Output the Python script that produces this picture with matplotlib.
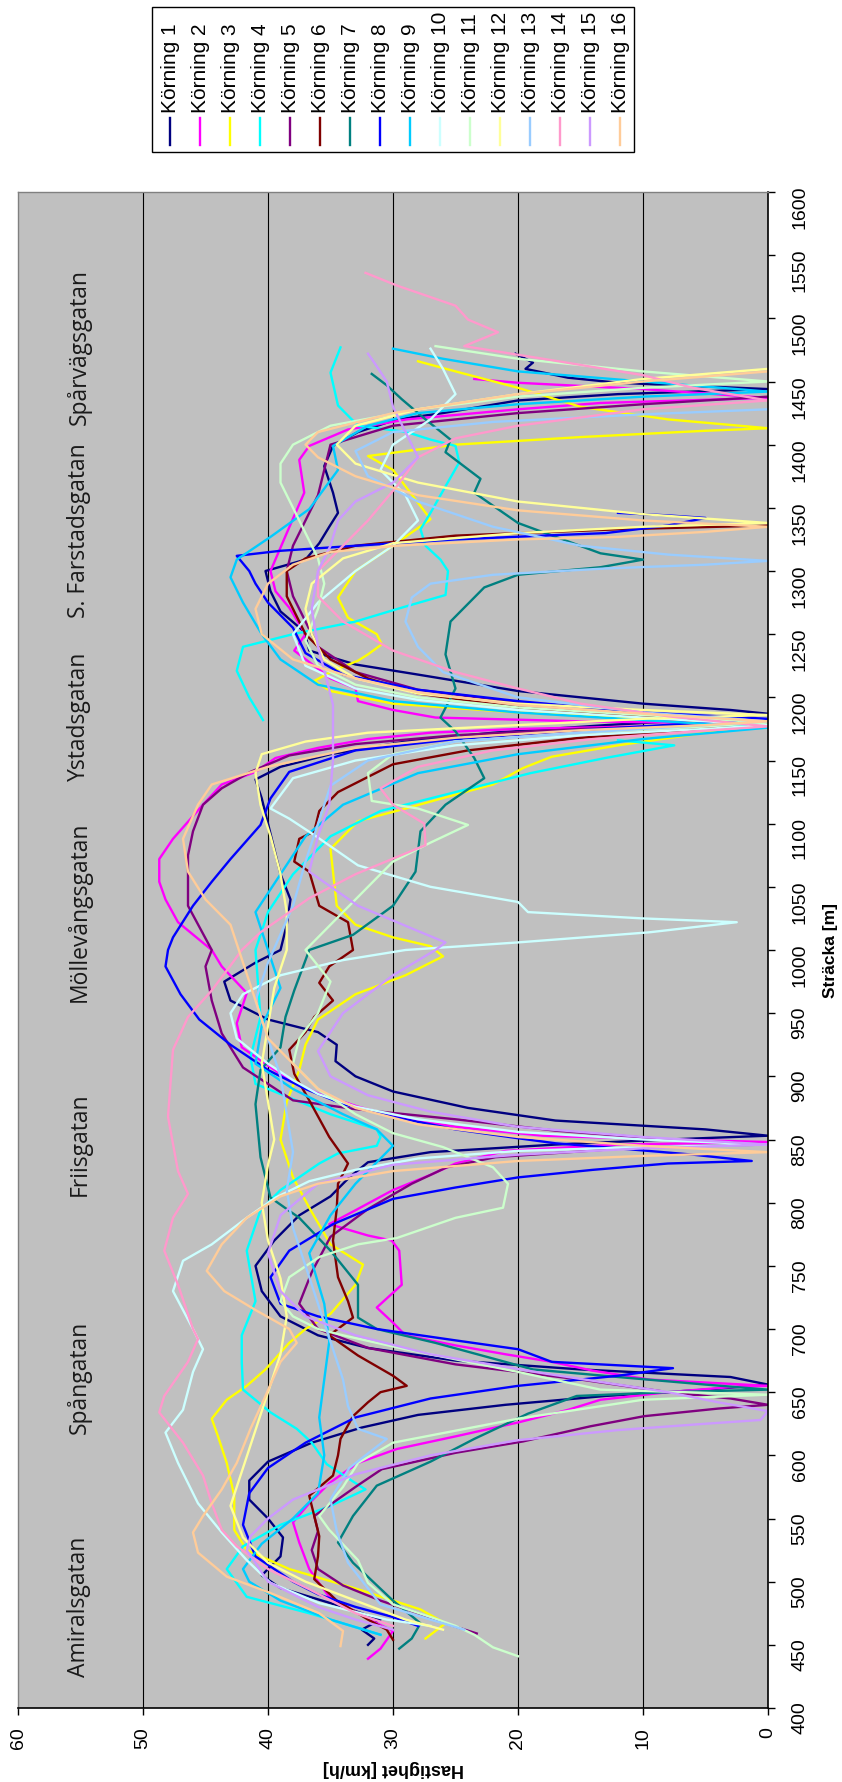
import matplotlib
matplotlib.use("Agg")
import matplotlib.pyplot as plt
from matplotlib.patches import Rectangle

NAN = float("nan")

# (sträcka [m], hastighet [km/h]) för varje körning
korning_1 = [(450, 32), (455, 31.5), (462, 32.5), (470, 31), (480, 34), (495, 39), (505, 40.5), (520, 39),
             (535, 38.8), (550, 40), (565, 41.5), (580, 41.5), (595, 40), (610, 36.5), (622, 32.5), (632, 28),
             (640, 21), (647, 13), (652, 5), (656, 0), (662, 3), (668, 15), (675, 25), (685, 32), (695, 36),
             (710, 39), (730, 40.5), (750, 41), (770, 39.5), (790, 37.5), (805, 35), (820, 33.5), (832, 32),
             (840, 27), (846, 17), (850, 8), (853, 0), (858, 5), (865, 17), (875, 24), (888, 30), (900, 33),
             (912, 34.6), (925, 34.5), (935, 36), (945, 40), (960, 43), (975, 43.5), (990, 41), (1000, 39),
             (1020, 38.5), (1040, 38.2), (1060, 39), (1080, 39.5), (1100, 40), (1120, 40.5), (1135, 41),
             (1145, 39), (1155, 35), (1165, 29), (1172, 22), (1178, 13), (1183, 4), (1187, 0), (1190, 3),
             (1195, 10), (1205, 20), (1218, 28), (1226, 33), (1237, 36.7), (1252, 37.1), (1268, 39),
             (1284, 39.8), (1300, 40.2), (1309, 37), (1322, 35.9), (1335, 35.1), (1346, 34.4), (1362, 34.8),
             (1383, 35.5), (1399, 34.8), (1410, 32.8), (1420, 29.7), (1425, 26), (1435, 20), (1440, 12),
             (1444, 0), (1449, 12), (1453, 16), (1460, 19.4), (1465, 18.8), (1472, 20.2)]
korning_2 = [(439, 32), (447, 31), (454, 30.5), (461, 30), (468, 31.5), (475, 32.8), (488, 35.1), (500, 36),
             (510, 36.7), (531, 37.5), (547, 38), (562, 36.7), (578, 35.1), (594, 32.8), (605, 29.7), (615, 25),
             (626, 20), (636, 16), (644, 13.4), (650, 8), (654, 3), (655, 0), (660, 9.5), (667, 14), (674, 17.3),
             (680, 21), (687, 25), (695, 29), (705, 30), (717, 31.3), (735, 29.3), (762, 29.5), (770, 30.1),
             (774, 32), (783, 35.1), (794, 33), (810, 30), (822, 27), (831, 25), (841, 21), (846, 12), (848, 0),
             (850, 8), (853, 18), (860, 25), (868, 29.7), (876, 32.8), (886, 35.9), (897, 38.3), (910, 40.2),
             (923, 42.1), (942, 42.5), (966, 41.7), (987, 43.7), (1000, 44.5), (1022, 47.2), (1040, 48.2),
             (1054, 48.7), (1072, 48.7), (1088, 47.6), (1115, 45.2), (1131, 43.7), (1141, 41), (1152, 39.4),
             (1160, 36), (1167, 32), (1172, 27), (1175, 20), (1177, 10), (1179, 0), (1181, 15), (1184, 26.6),
             (1190, 30), (1197, 32.8), (1207, 33), (1215, 35), (1237, 37.9), (1250, 37), (1271, 38.3),
             (1284, 39.4), (1300, 39.8), (1330, 38.5), (1362, 37.1), (1388, 37.5), (1399, 36.7), (1412, 33.6),
             (1420, 28.9), (1428, 20), (1433, 13.4), (1437, 0), (1444, 10), (1449, 20), (1452, 23.5)]
korning_3 = [(455, 27.4), (467, 25.8), (478, 27.8), (494, 32.8), (510, 38.3), (525, 41.7), (541, 42.7),
             (568, 42.7), (594, 43.3), (615, 44), (629, 44.5), (644, 43.3), (655, 41.7), (668, 40.2), (689, 38.3),
             (700, 37), (712, 35), (735, 33), (751, 32.4), (767, 35), (796, 36.7), (820, 38), (850, 39),
             (880, 38.5), (905, 37.5), (925, 37), (945, 36), (965, 33), (980, 29), (995, 26), (1003, 27),
             (1010, 30), (1020, 33), (1035, 34.5), (1062, 34.8), (1080, 35), (1102, 32.8), (1112, 29), (1123, 25),
             (1131, 22), (1144, 19.6), (1153, 17.3), (1162, 12), (1172, 5), (1178, 0), (1183, 8), (1188, 20),
             (1195, 30), (1205, 35), (1213, 36.3), (1221, 34.8), (1229, 32.8), (1234, 32), (1242, 30.9),
             (1250, 31.3), (1263, 33.6), (1279, 34.4), (1300, 33), (1320, 30), (1341, 27), (1367, 29), (1380, 30),
             (1391, 32), (1400, 25), (1406, 15), (1411, 5), (1413, 0), (1420, 8), (1430, 15), (1445, 20),
             (1458, 25), (1466, 28)]
korning_4 = [(458, 31), (475, 36.7), (488, 41.7), (510, 43.3), (528, 42), (545, 39), (560, 35), (573, 32.2),
             (578, 33), (593, 35.3), (610, 36.5), (621, 37.7), (634, 39.8), (652, 42), (674, 42.1), (695, 42.1),
             (722, 41), (762, 41.7), (794, 40.6), (810, 39), (831, 35.9), (839, 34.4), (845, 31.3), (852, 31),
             (858, 31.3), (870, 35), (894, 41), (915, 41.4), (947, 40.6), (1000, 41), (1030, 40), (1060, 38),
             (1090, 35), (1110, 31), (1125, 25), (1140, 19), (1152, 13), (1162, 7.5), (1166, 12), (NAN, NAN),
             (1182, 40.4), (1200, 41.5), (1221, 42.5), (1240, 42), (1250, 38), (1260, 33), (1271, 29.3),
             (1281, 25.8), (1300, 25.6), (1309, 26.2), (1320, 27.4), (1333, 27.8), (1346, 27), (1367, 25.8),
             (1386, 24.7), (1399, 25), (1404, 27), (1410, 28.9), (1415, 32.8), (1431, 34.4), (1457, 35),
             (1477, 34.2)]
korning_5 = [(459, 23.3), (466, 25.5), (475, 28), (485, 31), (497, 34), (510, 36), (525, 36.5), (540, 36),
             (552, 36.3), (575, 33), (589, 30.9), (602, 25), (611, 19.6), (623, 14.2), (631, 9.9), (637, 4),
             (640, 0), (645, 3), (650, 8), (660, 15), (672, 25), (685, 32), (700, 36), (720, 37.5), (745, 36.5),
             (773, 35), (795, 32), (815, 28.5), (828, 25.7), (836, 21.8), (844, 10), (846, 0), (850, 8),
             (857, 17), (866, 25), (874, 33), (881, 38), (907, 42), (934, 43.7), (960, 44.5), (987, 45),
             (1000, 44.5), (1035, 46.4), (1075, 46.4), (1094, 46), (1115, 45.2), (1128, 43.7), (1141, 41.4),
             (1154, 38.3), (1163, 33), (1170, 25), (1175, 15), (1178, 5), (1180, 0), (1184, 8), (1188, 14),
             (1196, 20), (1206, 28), (1220, 33), (1240, 36), (1260, 37), (1280, 38), (1300, 38.5), (1320, 38),
             (1340, 37), (1360, 36), (1380, 35.5), (1400, 35), (1415, 30), (1425, 20), (1432, 10), (1438, 0)]
korning_6 = [(454, 30), (462, 30.5), (470, 32), (485, 34.5), (502, 36.3), (520, 36), (536, 35.9), (552, 36.3),
             (568, 36.7), (584, 34.8), (600, 34.4), (613, 34.2), (631, 33.2), (642, 32), (650, 31), (655, 28.9),
             (663, 30), (679, 32.8), (695, 35.1), (709, 33.2), (722, 33.6), (741, 34.4), (770, 34.8), (795, 34.5),
             (815, 34.4), (831, 33.6), (852, 35.1), (881, 36.7), (902, 37.9), (921, 38.3), (935, 37), (947, 36.3),
             (960, 34.8), (974, 35.9), (987, 35.1), (1000, 33.2), (1022, 33.6), (1035, 35.9), (1062, 36.7),
             (1070, 37.9), (1088, 37.5), (1094, 36.3), (1110, 35.9), (1125, 34.4), (1133, 32.8), (1147, 30),
             (1158, 24), (1168, 15), (1175, 5), (1178, 0), (1185, 10), (1192, 20), (1203, 28), (1215, 32),
             (1230, 35), (1250, 37), (1280, 38.5), (1300, 38.5), (1310, 37), (1320, 33), (1328, 25), (1333, 12),
             (1336, 0)]
korning_7 = [(447, 29.5), (455, 28.5), (467, 27.8), (485, 30), (515, 33.2), (531, 34.4), (552, 33.2), (576, 31.3),
             (595, 27), (613, 23.5), (633, 19.2), (647, 15.3), (650, 8), (652, 0), (656, 5), (662, 12),
             (668, 18.8), (689, 26.6), (700, 31.3), (709, 32.8), (735, 32.8), (762, 35), (788, 37.5), (804, 39.8),
             (836, 40.6), (878, 41), (905, 40.6), (923, 39), (947, 38.6), (968, 37.9), (1000, 36.7), (1012, 33.2),
             (1035, 30), (1062, 28.2), (1094, 27.8), (1115, 25.8), (1136, 22.7), (1152, 23.5), (1173, 25),
             (1184, 26.2), (1207, 25), (1234, 25.8), (1260, 25.4), (1287, 22.7), (1297, 20), (1303, 13.4),
             (1309, 10), (1314, 13.4), (1338, 20), (1362, 23.5), (1373, 23), (1394, 25.8), (1404, 25.4),
             (1420, 27.4), (1436, 29.3), (1447, 30.5), (1456, 31.7)]
korning_8 = [(465, 28), (472, 30), (480, 33), (490, 36), (500, 38), (520, 41), (545, 42), (570, 41.5), (590, 40),
             (610, 37), (630, 33), (645, 27), (655, 20), (663, 12), (669, 7.6), (674, 17.3), (684, 20), (691, 25),
             (700, 31.3), (710, 36), (720, 39), (741, 39.8), (762, 38.3), (783, 34.8), (803, 30), (812, 25),
             (820, 20), (826, 14), (831, 8), (833, 1.3), (838, 6), (843, 12), (847, 17), (851, 20), (858, 25),
             (868, 30), (878, 34), (890, 37), (905, 40), (925, 43), (945, 45.5), (965, 47), (987, 48.2),
             (1000, 48), (1010, 47.6), (1035, 46), (1054, 44.5), (1072, 43), (1099, 40.6), (1120, 39.8),
             (1141, 38.3), (1158, 33), (1167, 25), (1174, 15), (1180, 5), (1183, 0), (1188, 10), (1197, 20),
             (1206, 28), (1218, 34), (1235, 37), (1255, 38), (1275, 40), (1290, 41), (1300, 41.5), (1312, 42.5),
             (1316, 39), (1320, 33), (1325, 25), (1328, 18), (1330, 13), (1336, 8), (1342, 5), (1344, 8),
             (1346, 12)]
korning_9 = [(458, 31), (470, 35), (485, 39), (500, 41.5), (510, 42), (530, 40.5), (550, 38), (570, 36),
             (600, 35.5), (630, 35.9), (660, 35.5), (690, 35.1), (720, 35.5), (760, 36.7), (790, 35), (815, 33),
             (835, 31), (845, 30), (858, 31.3), (870, 34), (890, 38), (910, 41), (940, 40.5), (970, 39),
             (1000, 40), (1030, 41), (1060, 39), (1090, 37), (1115, 34), (1140, 28), (1155, 20), (1167, 10),
             (1176, 0), (1182, 10), (1188, 20), (1197, 30), (1210, 36), (1230, 39), (1250, 40.5), (1275, 42),
             (1295, 43), (1309, 42.5), (1327, 39.8), (1349, 36.7), (1380, 34.4), (1399, 34.8), (1415, 32),
             (1425, 28), (1432, 20), (1438, 10), (1442, 0), (1450, 10), (1458, 20), (1468, 26), (1476, 30)]
korning_10 = [(465, 27), (470, 30.5), (483, 35.9), (499, 39.8), (517, 41.7), (539, 43.7), (562, 45.6),
              (594, 47.2), (618, 48.2), (636, 46.8), (666, 46), (684, 45.2), (700, 46), (730, 47.6), (754, 46.8),
              (767, 44.5), (788, 41.7), (804, 39.4), (817, 36.7), (826, 33), (835, 28), (841, 20), (844, 10),
              (846, 0), (850, 10), (856, 20), (866, 28), (876, 33), (886, 36), (897, 38), (910, 40), (930, 42.5),
              (950, 43), (965, 42), (980, 39), (992, 34), (1000, 29), (1006, 20), (1014, 9.5), (1022, 2.5),
              (1025, 10), (1030, 19.2), (1038, 20), (1050, 27), (1067, 32.8), (1091, 36.3), (1104, 38.3),
              (1112, 39.8), (1136, 38), (1150, 33), (1162, 25), (1170, 15), (1175, 5), (1178, 0), (1184, 10),
              (1190, 20), (1198, 28), (1207, 33), (1225, 37), (1250, 38), (1275, 36), (1300, 33), (1320, 30),
              (1340, 28), (1360, 29), (1380, 31), (1400, 30), (1420, 27), (1440, 25), (1460, 26), (1476, 27)]
korning_11 = [(441, 20), (448, 22), (458, 23.5), (465, 25), (472, 27), (482, 30), (499, 32), (517, 32.8),
              (541, 35.1), (552, 35.9), (575, 34), (594, 32.8), (610, 30), (629, 20), (644, 10), (648, 0),
              (652, 13.4), (666, 20), (684, 29), (695, 34), (700, 36), (710, 38), (722, 39), (741, 38.3),
              (757, 35.9), (767, 32.8), (772, 29.7), (788, 25), (796, 21.2), (815, 20.8), (828, 22), (844, 26),
              (855, 30), (870, 33), (890, 36), (910, 38), (930, 37.5), (950, 36), (975, 35), (1000, 37),
              (1040, 33), (1070, 30), (1085, 27), (1099, 24), (1112, 28), (1118, 31.7), (1140, 32), (1155, 30),
              (1165, 25), (1172, 15), (1177, 5), (1180, 0), (1186, 10), (1192, 20), (1200, 28), (1210, 33),
              (1225, 36), (1245, 37), (1270, 36), (1290, 35.5), (1310, 36), (1330, 37), (1350, 38), (1370, 39),
              (1385, 39), (1400, 38), (1415, 35), (1428, 28), (1438, 20), (1445, 10), (1450, 0), (1458, 10),
              (1468, 20), (1478, 26.6)]
korning_12 = [(462, 26), (470, 29), (485, 33), (500, 37), (515, 40), (535, 42), (560, 43), (590, 42), (620, 41),
              (650, 40), (680, 39), (710, 38.5), (740, 39), (770, 40), (800, 40.5), (830, 40), (850, 39.5),
              (880, 40), (910, 40.5), (940, 40), (970, 39.5), (1000, 38.5), (1030, 38.5), (1060, 39), (1090, 39.8),
              (1115, 40.6), (1140, 41), (1155, 40.5), (1165, 37), (1172, 32), (1178, 20), (1183, 10), (1186, 0),
              (1190, 10), (1195, 20), (1203, 28), (1215, 33), (1230, 35.5), (1250, 36.5), (1270, 37),
              (1290, 36.5), (1310, 34), (1322, 30), (1330, 20), (1335, 10), (1338, 0), (1345, 10), (1355, 20),
              (1370, 28), (1385, 33), (1400, 34.5), (1415, 33), (1428, 28), (1440, 20), (1452, 10), (1460, 0)]
korning_13 = [(462, 24.3), (470, 27), (482, 31), (515, 33.6), (540, 34.5), (565, 35), (590, 33.5), (613, 30.5),
              (621, 32.8), (639, 33.6), (660, 34), (690, 35), (720, 36), (750, 37), (780, 38), (810, 38.5),
              (840, 38), (870, 38.5), (900, 39), (930, 40), (960, 41), (990, 40), (1035, 38), (1070, 37),
              (1100, 36), (1130, 35), (1150, 32), (1165, 25), (1172, 15), (1178, 5), (1181, 0), (1188, 10),
              (1200, 20), (1220, 26), (1240, 28), (1260, 29), (1279, 28.5), (1290, 27), (1297, 22), (1302, 13),
              (1305, 5), (1308, 0), (1313, 8), (1320, 15), (1335, 22), (1355, 28), (1375, 32), (1395, 33),
              (1410, 30), (1418, 22), (1424, 10), (1428, 0)]
korning_14 = [(465, 30), (475, 33), (494, 36.7), (510, 40), (528, 42.5), (541, 43.7), (562, 44.5), (584, 45.2),
              (610, 46.8), (634, 48.7), (647, 48.3), (674, 46.4), (692, 45.6), (700, 46), (735, 47.2), (762, 48.3),
              (788, 47.6), (807, 46.4), (825, 47.2), (868, 48), (921, 47.6), (947, 46.4), (968, 44.5),
              (989, 42.9), (1000, 42.1), (1014, 40.6), (1041, 36.7), (1060, 33), (1083, 27.4), (1100, 27.5),
              (1115, 30), (1128, 31), (1145, 28), (1158, 22), (1167, 14), (1173, 6), (1177, 0), (1185, 8),
              (1195, 15), (1207, 20), (1220, 25), (1237, 30), (1260, 34), (1280, 36), (1300, 36), (1320, 34),
              (1340, 32), (1367, 29.7), (1390, 28), (1405, 25), (1415, 20), (1428, 10), (1435, 0), (1445, 6),
              (1455, 10), (1468, 18), (1478, 24.3), (1489, 21.6), (1499, 24), (1510, 25), (1526, 29.7),
              (1536, 32.2)]
korning_15 = [(462, 30), (470, 33), (480, 36), (500, 40), (525, 41.7), (536, 41.4), (550, 40), (565, 38),
              (585, 33), (600, 27), (612, 20), (620, 12), (625, 5), (628, 0.6), (635, 0), (642, 4), (650, 8),
              (665, 18), (680, 27), (695, 33), (710, 37), (730, 39), (760, 40), (790, 39), (815, 36), (830, 30),
              (838, 20), (843, 10), (846, 0), (852, 10), (860, 20), (872, 27), (885, 32), (900, 35), (920, 36),
              (950, 34), (980, 30), (1000, 26.6), (1006, 25.8), (1015, 28), (1035, 32.8), (1062, 36.7),
              (1090, 36), (1115, 35.1), (1150, 34.8), (1194, 34.8), (1210, 35.2), (1240, 36), (1270, 36.5),
              (1300, 36), (1320, 35), (1340, 34.4), (1355, 33), (1370, 30), (1390, 28), (1410, 29), (1430, 30),
              (1450, 30.5), (1465, 31.5), (1472, 32)]
korning_16 = [(449, 34.2), (461, 34), (475, 35.9), (491, 39.8), (504, 43.3), (523, 45.6), (539, 46), (552, 45.2),
              (573, 43.7), (594, 42.5), (621, 41.4), (647, 40.2), (674, 39), (689, 37.7), (700, 38.3), (715, 41),
              (730, 43.5), (746, 44.9), (767, 43.7), (788, 41.7), (805, 39), (815, 36), (825, 30), (833, 20),
              (837, 10), (840, 0), (845, 10), (852, 20), (862, 28), (875, 33), (890, 36), (910, 38), (930, 40),
              (960, 41), (990, 42), (1020, 43), (1040, 45), (1062, 46.4), (1088, 46.8), (1115, 45.6),
              (1131, 44.5), (1145, 40), (1160, 33), (1168, 25), (1174, 15), (1178, 5), (1181, 0), (1187, 10),
              (1194, 20), (1204, 28), (1215, 33), (1230, 38), (1250, 40.5), (1270, 41), (1290, 40), (1305, 38),
              (1315, 35), (1320, 29.7), (1325, 20), (1327, 12), (1331, 5), (1335, 0), (1340, 10), (1348, 20),
              (1360, 28), (1375, 33), (1390, 36), (1400, 37), (1410, 36), (1425, 30), (1440, 20), (1450, 10),
              (1458, 0)]

korningar = [korning_1, korning_2, korning_3, korning_4, korning_5, korning_6, korning_7, korning_8,
             korning_9, korning_10, korning_11, korning_12, korning_13, korning_14, korning_15, korning_16]
namn = ["Körning %d" % (i + 1) for i in range(16)]
farger = ["#000080", "#FF00FF", "#FFFF00", "#00FFFF", "#800080", "#800000", "#008080", "#0000FF",
          "#00CCFF", "#CCFFFF", "#CCFFCC", "#FFFF99", "#99CCFF", "#FF99CC", "#CC99FF", "#FFCC99"]

gator = ["Amiralsgatan", "Spångatan", "Friisgatan", "Möllevångsgatan", "Ystadsgatan",
         "S. Farstadsgatan", "Spårvägsgatan"]
gator_pos = [480, 662, 846, 1030, 1185, 1332, 1477]

W, H = 842, 1782
fig = plt.figure(figsize=(W / 100, H / 100), dpi=100)
fig.patch.set_facecolor("white")

# diagrammet ligger vridet: sträckan uppåt, hastigheten från höger till vänster
ax = fig.add_axes([18 / W, 1 - 1708 / H, 750 / W, 1516 / H])
ax.set_facecolor("#C0C0C0")

for s in (10, 20, 30, 40, 50):
    ax.axvline(s, color="black", lw=0.8, zorder=1)

for pts, farg, lbl in zip(korningar, farger, namn):
    d = [p[0] for p in pts]
    v = [p[1] for p in pts]
    ax.plot(v, d, color=farg, lw=1.7, label=lbl, zorder=2, solid_joinstyle="round")

ax.set_xlim(60, 0)
ax.set_ylim(400, 1600)
ax.set_xticks(range(0, 61, 10))
ax.set_yticks(range(400, 1601, 50))
ax.yaxis.tick_right()

for sp in ("left", "top"):
    ax.spines[sp].set_color("#808080")
    ax.spines[sp].set_linewidth(1)
for sp in ("right", "bottom"):
    ax.spines[sp].set_color("black")
    ax.spines[sp].set_linewidth(1.2)

ax.tick_params(axis="x", direction="out", length=5, width=1, pad=9, labelrotation=90, labelsize=14)
ax.tick_params(axis="y", direction="out", length=5, width=1, pad=12, labelrotation=90, labelsize=14)
for t in ax.get_xticklabels() + ax.get_yticklabels():
    t.set_family("Liberation Sans")

for g, pos in zip(gator, gator_pos):
    ax.text(55.1, pos, g, rotation=90, ha="center", va="center", fontsize=16.5, family="Open Sans",
            color="#1a1a1a", zorder=3)

# lager i pixelkoordinater för förklaring och axeltitlar
ov = fig.add_axes([0, 0, 1, 1], facecolor="none")
ov.set_xlim(0, W)
ov.set_ylim(H, 0)
ov.axis("off")

ov.add_patch(Rectangle((152, 7), 482, 145, facecolor="white", edgecolor="black", lw=1))
for i, (lbl, farg) in enumerate(zip(namn, farger)):
    x = 170 + 30 * i
    ov.plot([x, x], [118, 145], color=farg, lw=1.7)
    ov.text(x, 113, lbl, rotation=90, ha="center", va="bottom", fontsize=15, family="Liberation Sans")

ov.text(393, 1768, "Hastighet [km/h]", rotation=180, ha="center", va="center", fontsize=13,
        fontweight="bold", family="Liberation Sans")
ov.text(830, 950, "Sträcka [m]", rotation=90, ha="center", va="center", fontsize=12.5,
        fontweight="bold", family="Liberation Sans")

fig.savefig("out.png", dpi=100)
